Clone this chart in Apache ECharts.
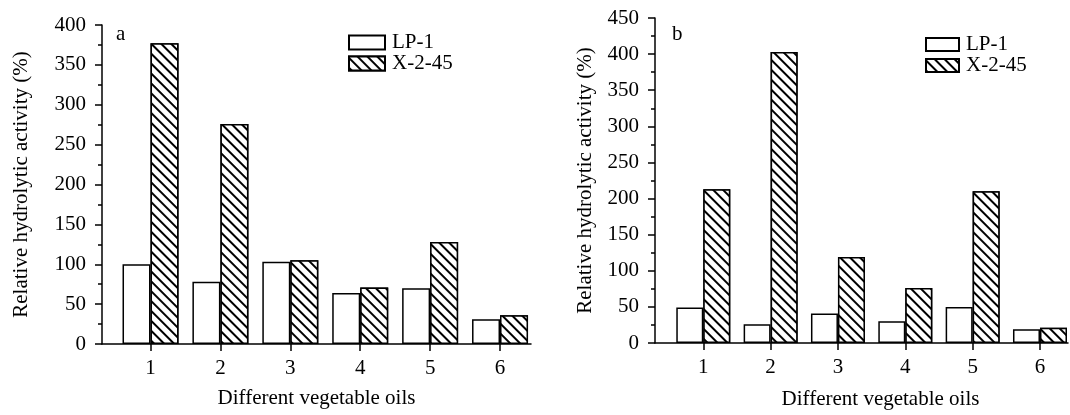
<!DOCTYPE html>
<html>
<head>
<meta charset="utf-8">
<script src="https://cdn.jsdelivr.net/npm/echarts@6/dist/echarts.min.js"></script>
<style>html,body{margin:0;padding:0;background:#fff;}#c{width:1070px;height:415px;}</style>
</head>
<body>
<div id="c"></div>
<script>
const categories = [1, 2, 3, 4, 5, 6];
const seriesNames = ['LP-1', 'X-2-45'];
const aLP1 = [100, 78, 103, 64, 70, 31];
const aX245 = [377, 276, 105, 71, 128, 36];
const bLP1 = [49, 26, 41, 30, 50, 19];
const bX245 = [213, 403, 119, 76, 210, 21];
const yTicksA = [0, 50, 100, 150, 200, 250, 300, 350, 400];
const yTicksB = [0, 50, 100, 150, 200, 250, 300, 350, 400, 450];
const panelLabels = ['a', 'b'];
const xTitle = 'Different vegetable oils';
const yTitle = 'Relative hydrolytic activity (%)';

const FONT = 'Liberation Serif';
const FS = 21;
const pair = (vals) => categories.map((c, i) => [c, vals[i]]);

const hatch = {
  symbol: 'rect', symbolSize: 1, color: '#000', backgroundColor: '#fff',
  dashArrayX: [1, 0], dashArrayY: [1.6, 4.8], rotation: Math.PI / 4
};
const plainStyle = { color: '#fff', borderColor: '#000', borderWidth: 1.5 };
const hatchStyle = { color: '#fff', borderColor: '#000', borderWidth: 1.5, decal: hatch };

function xAxisOpt(gi, min, max, gapName, pad) {
  return {
    type: 'value', gridIndex: gi, min: min, max: max,
    splitLine: { show: false },
    axisLine: { show: true, onZero: false, lineStyle: { color: '#000', width: 1.5 } },
    axisTick: { show: true, length: 7, customValues: categories, lineStyle: { color: '#000', width: 1.5 } },
    axisLabel: { customValues: categories, fontFamily: FONT, fontSize: FS, color: '#000', margin: 14 },
    name: xTitle, nameLocation: 'middle', nameGap: gapName,
    nameTextStyle: { fontFamily: FONT, fontSize: FS, color: '#000', padding: pad }
  };
}
function yAxisOpt(gi, ticks, gapName) {
  return {
    type: 'value', gridIndex: gi, min: ticks[0], max: ticks[ticks.length - 1], interval: ticks[1] - ticks[0],
    splitLine: { show: false },
    axisLine: { show: true, lineStyle: { color: '#000', width: 1.5 } },
    axisTick: { show: true, length: 7, lineStyle: { color: '#000', width: 1.5 } },
    minorTick: { show: true, splitNumber: 2, length: 4, lineStyle: { color: '#000', width: 1.5 } },
    axisLabel: { fontFamily: FONT, fontSize: FS, color: '#000', margin: 16 },
    name: yTitle, nameLocation: 'middle', nameGap: gapName,
    nameTextStyle: { fontFamily: FONT, fontSize: FS, color: '#000' }
  };
}
function legendOpt(left, top, w, h) {
  return {
    left: left, top: top, orient: 'vertical', itemWidth: w, itemHeight: h, itemGap: 0,
    icon: 'rect', data: seriesNames, selectedMode: false, padding: 0,
    textStyle: { fontFamily: FONT, fontSize: FS, color: '#000', padding: [0, 0, 0, 2] }
  };
}

const option = {
  animation: false,
  backgroundColor: '#fff',
  title: [
    { text: panelLabels[0], left: 111, top: 19, textStyle: { fontFamily: FONT, fontSize: FS, fontWeight: 'normal', color: '#000' } },
    { text: panelLabels[1], left: 667, top: 19, textStyle: { fontFamily: FONT, fontSize: FS, fontWeight: 'normal', color: '#000' } }
  ],
  legend: [legendOpt(348, 32, 36, 14), legendOpt(925, 34, 33, 13)],
  grid: [
    { left: 102, top: 25, width: 429, height: 319 },
    { left: 655, top: 18, width: 413, height: 327 }
  ],
  xAxis: [xAxisOpt(0, 0.306, 6.443, 44, [0, 0, 0, 0]), xAxisOpt(1, 0.283, 6.416, 46, [0, 0, 0, 38])],
  yAxis: [yAxisOpt(0, yTicksA, 70), yAxisOpt(1, yTicksB, 59)],
  series: [
    { name: seriesNames[0], type: 'bar', xAxisIndex: 0, yAxisIndex: 0, data: pair(aLP1), barWidth: 28, barGap: '0%', itemStyle: plainStyle },
    { name: seriesNames[1], type: 'bar', xAxisIndex: 0, yAxisIndex: 0, data: pair(aX245), barWidth: 28, barGap: '0%', itemStyle: hatchStyle },
    { name: seriesNames[0], type: 'bar', xAxisIndex: 1, yAxisIndex: 1, data: pair(bLP1), barWidth: 27, barGap: '0%', itemStyle: plainStyle },
    { name: seriesNames[1], type: 'bar', xAxisIndex: 1, yAxisIndex: 1, data: pair(bX245), barWidth: 27, barGap: '0%', itemStyle: hatchStyle }
  ]
};
const chart = echarts.init(document.getElementById('c'), null, { renderer: 'canvas' });
chart.setOption(option);
</script>
</body>
</html>
